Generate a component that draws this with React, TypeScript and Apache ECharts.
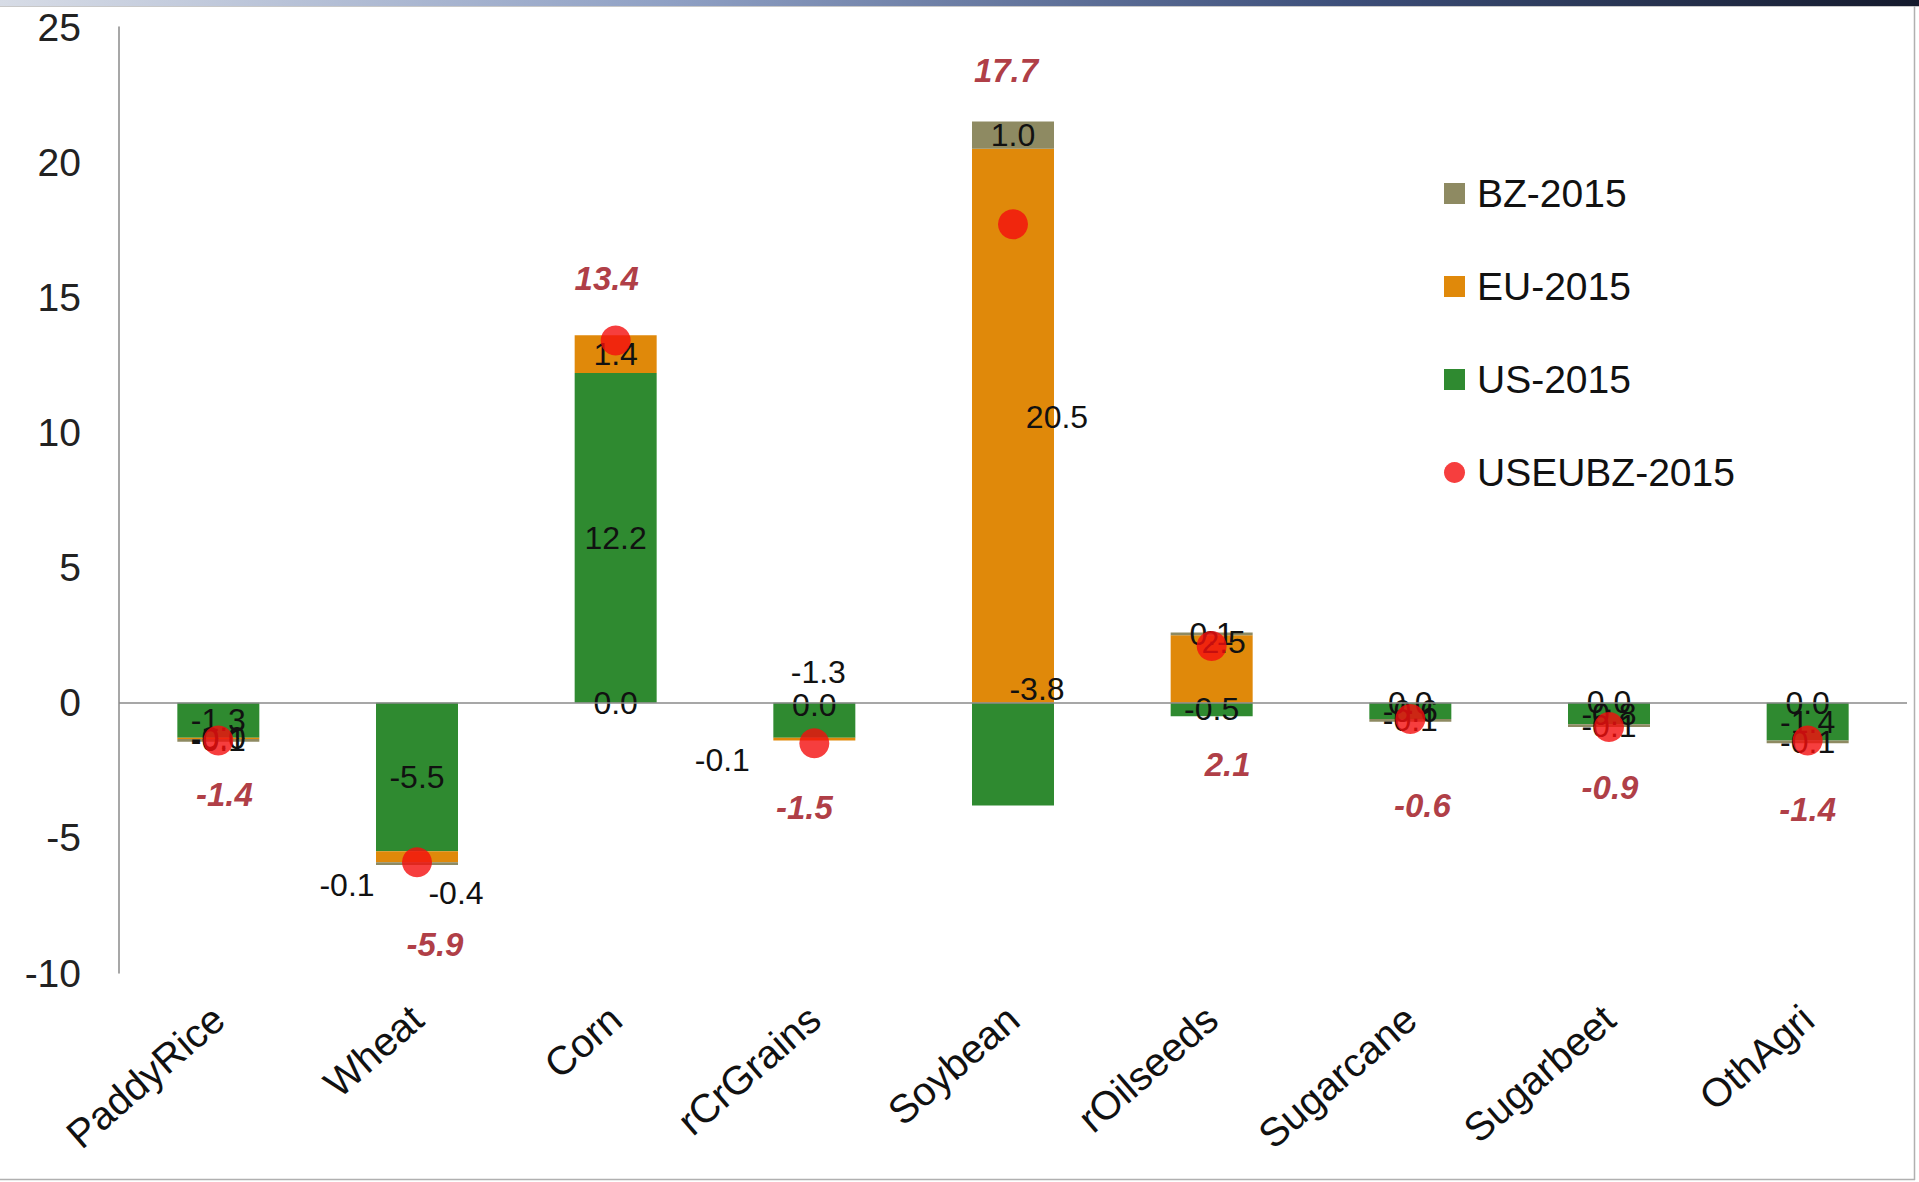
import React, { useEffect, useRef } from "react";
import * as echarts from "echarts";

// Crop categories and regional changes (2015 scenario)
const categories = [
  "PaddyRice",
  "Wheat",
  "Corn",
  "rCrGrains",
  "Soybean",
  "rOilseeds",
  "Sugarcane",
  "Sugarbeet",
  "OthAgri",
];
const us2015 = [-1.3, -5.5, 12.2, -1.3, -3.8, -0.5, -0.6, -0.8, -1.4];
const eu2015 = [-0.04, -0.4, 1.4, -0.1, 20.5, 2.5, 0.0, 0.0, 0.0];
const bz2015 = [-0.1, -0.1, 0.0, 0.0, 1.0, 0.1, -0.1, -0.1, -0.1];
const useubz2015 = [-1.4, -5.9, 13.4, -1.5, 17.7, 2.1, -0.6, -0.9, -1.4];

const yMin = -10;
const yMax = 25;
const yStep = 5;

// Hand-placed label nudges (px) so stacked labels don't collide;
// zero-valued segments get their label pulled back onto the zero line
const usNudge = [[0, 0], [0, 0], [0, 0], [4, -48], [24, -65], [0, 0], [0, 0], [0, 0], [0, 0]];
const euNudge = [[0, 0], [39, 36], [0, 0], [-92, 21], [44, -9], [12, -27], [0, -16], [0, -22], [0, -38]];
const bzNudge = [[0, 0], [-70, 21], [0, 368], [0, -36], [0, 0], [0, 0], [0, 0], [0, 0], [0, 0]];
const totalNudge = [[6, 54], [18, 82], [-9, -62], [-10, 64], [-7, -154], [16, 119], [12, 87], [1, 60], [0, 69]];

const FONT = "'Liberation Sans', Arial, sans-serif";
const GREEN = "#2F8A30";
const ORANGE = "#E0890A";
const OLIVE = "#8E8A62";
const RED = "#F40E0E";

const fmt = (p: any) => Number(p.value).toFixed(1);

function withNudges(values: number[], nudges: number[][]) {
  return values.map((v, i) => ({ value: v, label: { offset: nudges[i] } }));
}

function barSeries(name: string, values: number[], nudges: number[][], color: string, extra: any = {}) {
  return {
    name,
    type: "bar",
    stack: "total",
    barWidth: 82,
    itemStyle: { color },
    label: {
      show: true,
      position: "inside",
      formatter: fmt,
      color: "#111",
      fontSize: 32,
      fontFamily: FONT,
    },
    data: withNudges(values, nudges),
    ...extra,
  };
}

export default function App() {
  const ref = useRef<HTMLDivElement>(null);

  useEffect(() => {
    document.body.style.margin = "0";
    if (!ref.current) return;
    const chart = echarts.init(ref.current, undefined, { renderer: "svg" });
    chart.setOption({
      animation: false,
      backgroundColor: "#ffffff",
      grid: { left: 119, right: 12, top: 27, bottom: 209, containLabel: false },
      graphic: [
        {
          type: "rect",
          shape: { x: 0, y: 0, width: 1919, height: 6 },
          style: {
            fill: new echarts.graphic.LinearGradient(0, 0, 1, 0, [
              { offset: 0, color: "#d7dce6" },
              { offset: 0.35, color: "#8fa0c4" },
              { offset: 0.7, color: "#3d4f7a" },
              { offset: 1, color: "#141a2c" },
            ]),
          },
          silent: true,
        },
        {
          type: "line",
          shape: { x1: 0, y1: 6.5, x2: 1919, y2: 6.5 },
          style: { stroke: "#c8c8c8", lineWidth: 1 },
          silent: true,
        },
        {
          type: "line",
          shape: { x1: 1914.5, y1: 6, x2: 1914.5, y2: 1180 },
          style: { stroke: "#b0b0b0", lineWidth: 1.5 },
          silent: true,
        },
        {
          type: "line",
          shape: { x1: 0, y1: 1179.5, x2: 1915, y2: 1179.5 },
          style: { stroke: "#b0b0b0", lineWidth: 1.5 },
          silent: true,
        },
      ],
      legend: {
        orient: "vertical",
        left: 1439,
        top: 169,
        itemGap: 54,
        itemWidth: 21,
        itemHeight: 21,
        textStyle: {
          fontSize: 39,
          lineHeight: 36,
          fontFamily: FONT,
          color: "#111",
          padding: [0, 0, 0, 7],
        },
        data: [
          { name: "BZ-2015", icon: "rect" },
          { name: "EU-2015", icon: "rect" },
          { name: "US-2015", icon: "rect" },
          { name: "USEUBZ-2015", icon: "circle" },
        ],
      },
      xAxis: {
        type: "category",
        data: categories,
        axisLine: { show: false, onZero: false },
        axisTick: { show: false },
        axisLabel: {
          rotate: 41,
          margin: 40,
          fontSize: 40,
          fontFamily: FONT,
          color: "#111",
          interval: 0,
        },
      },
      yAxis: {
        type: "value",
        min: yMin,
        max: yMax,
        interval: yStep,
        splitLine: { show: false },
        axisTick: { show: false },
        axisLine: { show: true, lineStyle: { color: "#8a8a8a", width: 1.5 } },
        axisLabel: {
          fontSize: 39,
          fontFamily: FONT,
          color: "#222",
          margin: 38,
        },
      },
      series: [
        barSeries("US-2015", us2015, usNudge, GREEN, {
          markLine: {
            silent: true,
            symbol: "none",
            label: { show: false },
            lineStyle: { color: "#8a8a8a", width: 1.5, type: "solid" },
            data: [{ yAxis: 0 }],
          },
        }),
        barSeries("EU-2015", eu2015, euNudge, ORANGE),
        barSeries("BZ-2015", bz2015, bzNudge, OLIVE),
        {
          name: "USEUBZ-2015",
          type: "scatter",
          symbol: "circle",
          symbolSize: 30,
          z: 5,
          itemStyle: { color: RED },
          label: {
            show: true,
            position: "inside",
            formatter: fmt,
            color: "#9A0A14",
            fontSize: 33,
            fontWeight: "bold",
            fontStyle: "italic",
            fontFamily: FONT,
          },
          data: withNudges(useubz2015, totalNudge),
        },
      ],
    });
    return () => chart.dispose();
  }, []);

  return <div ref={ref} style={{ width: 1919, height: 1182 }} />;
}
